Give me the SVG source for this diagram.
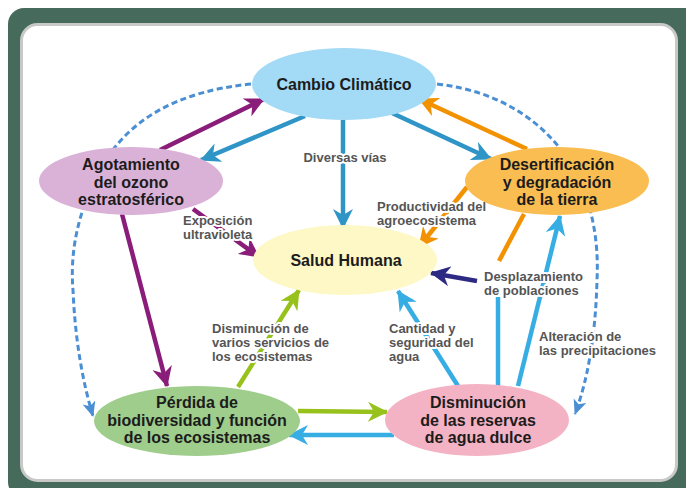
<svg xmlns="http://www.w3.org/2000/svg" width="686" height="488" viewBox="0 0 686 488">
<defs>
<style>
.node{font-family:"Liberation Sans",Arial,sans-serif;font-weight:bold;font-size:16px;fill:#1c1c1c;text-anchor:middle}
.lbl{font-family:"Liberation Sans",Arial,sans-serif;font-weight:bold;font-size:13px;fill:#555;stroke:#fff;stroke-width:4px;stroke-linejoin:round;paint-order:stroke}
.c{fill:none;stroke-width:4.5;stroke-linecap:butt}
.dash{fill:none;stroke:#4a8fd4;stroke-width:3;stroke-dasharray:6 3.5}
</style>
<marker id="mPu" viewBox="0 0 20 20" refX="19" refY="10" markerWidth="20" markerHeight="20" markerUnits="userSpaceOnUse" orient="auto"><path d="M0,0 L20,10 L0,20 L6,10 z" fill="#8b1d7a"/></marker>
<marker id="mBl" viewBox="0 0 20 20" refX="19" refY="10" markerWidth="20" markerHeight="20" markerUnits="userSpaceOnUse" orient="auto"><path d="M0,0 L20,10 L0,20 L6,10 z" fill="#2f95c6"/></marker>
<marker id="mLb" viewBox="0 0 20 20" refX="19" refY="10" markerWidth="20" markerHeight="20" markerUnits="userSpaceOnUse" orient="auto"><path d="M0,0 L20,10 L0,20 L6,10 z" fill="#36ade3"/></marker>
<marker id="mOr" viewBox="0 0 20 20" refX="19" refY="10" markerWidth="20" markerHeight="20" markerUnits="userSpaceOnUse" orient="auto"><path d="M0,0 L20,10 L0,20 L6,10 z" fill="#f39200"/></marker>
<marker id="mNv" viewBox="0 0 20 20" refX="19" refY="10" markerWidth="20" markerHeight="20" markerUnits="userSpaceOnUse" orient="auto"><path d="M0,0 L20,10 L0,20 L6,10 z" fill="#2d2a84"/></marker>
<marker id="mGr" viewBox="0 0 20 20" refX="19" refY="10" markerWidth="20" markerHeight="20" markerUnits="userSpaceOnUse" orient="auto"><path d="M0,0 L20,10 L0,20 L6,10 z" fill="#97c21c"/></marker>
<marker id="mDa" viewBox="0 0 16 14" refX="15" refY="7" markerWidth="15" markerHeight="14" markerUnits="userSpaceOnUse" orient="auto"><path d="M0,0 L16,7 L0,14 L4,7 z" fill="#4a8fd4"/></marker>
</defs>
<rect x="0" y="0" width="686" height="488" fill="#fff"/>
<rect x="8" y="8" width="692" height="490" rx="16" fill="#466a5b"/>
<rect x="21.5" y="24.5" width="655" height="456" rx="16" fill="#fff" stroke="#c8c8c8" stroke-width="3"/>

<g id="connectors">
<path class="dash" d="M251,84 Q140,95 100,170 Q68,230 73,290 Q76,360 93,416" marker-end="url(#mDa)"/>
<path class="dash" d="M437,84 Q530,95 575,170 Q600,220 597,280 Q595,360 575,414" marker-end="url(#mDa)"/>
<path class="c" stroke="#8b1d7a" d="M160,150 L264,99" marker-end="url(#mPu)"/>
<path class="c" stroke="#2f95c6" d="M305,116 L201,160" marker-end="url(#mBl)"/>
<path class="c" stroke="#2f95c6" d="M343,120 L343,228" marker-end="url(#mBl)"/>
<path class="c" stroke="#2f95c6" d="M392,113 L491,159" marker-end="url(#mBl)"/>
<path class="c" stroke="#f39200" d="M527,149 L419,99" marker-end="url(#mOr)"/>
<path class="c" stroke="#f39200" d="M467,187 L419,247" marker-end="url(#mOr)"/>
<path class="c" stroke="#f39200" d="M524,214 L499,261"/>
<path class="c" stroke="#2d2a84" d="M477,281 L431,273" marker-end="url(#mNv)"/>
<path class="c" stroke="#36ade3" d="M498,386 L498,297"/>
<path class="c" stroke="#36ade3" d="M518,386 L560,216" marker-end="url(#mLb)"/>
<path class="c" stroke="#36ade3" d="M458,386 L398,291" marker-end="url(#mLb)"/>
<path class="c" stroke="#36ade3" d="M394,435 L289,435" marker-end="url(#mLb)"/>
<path class="c" stroke="#97c21c" d="M298,411 L387,412" marker-end="url(#mGr)"/>
<path class="c" stroke="#97c21c" d="M238,387 L299,290" marker-end="url(#mGr)"/>
<path class="c" stroke="#8b1d7a" d="M122,214 L167,386" marker-end="url(#mPu)"/>
<path class="c" stroke="#8b1d7a" d="M193,209 L259,257" marker-end="url(#mPu)"/>
</g>

<g id="labels">
<text class="lbl" x="345" y="162" text-anchor="middle">Diversas vías</text>
<text class="lbl" x="183" y="225">Exposición</text>
<text class="lbl" x="183" y="238.5">ultravioleta</text>
<text class="lbl" x="377" y="211">Productividad del</text>
<text class="lbl" x="377" y="225">agroecosistema</text>
<text class="lbl" x="484" y="281">Desplazamiento</text>
<text class="lbl" x="484" y="295">de poblaciones</text>
<text class="lbl" x="389" y="333">Cantidad y</text>
<text class="lbl" x="389" y="347">seguridad del</text>
<text class="lbl" x="389" y="361">agua</text>
<text class="lbl" x="212" y="333">Disminución de</text>
<text class="lbl" x="212" y="347">varios servicios de</text>
<text class="lbl" x="212" y="361">los ecosistemas</text>
<text class="lbl" x="539" y="341">Alteración de</text>
<text class="lbl" x="539" y="355">las precipitaciones</text>
</g>

<g id="cambio">
<ellipse cx="344" cy="84" rx="92" ry="36" fill="#a3daf6"/>
<text class="node" x="344" y="90">Cambio Climático</text>
</g>
<g id="agotamiento">
<ellipse cx="131" cy="181" rx="92" ry="34" fill="#dbb2d7"/>
<text class="node" x="131" y="170">Agotamiento</text>
<text class="node" x="131" y="188">del ozono</text>
<text class="node" x="131" y="205">estratosférico</text>
</g>
<g id="desertificacion">
<ellipse cx="557" cy="181" rx="92" ry="34" fill="#f9bd52"/>
<text class="node" x="557" y="170">Desertificación</text>
<text class="node" x="557" y="188">y degradación</text>
<text class="node" x="557" y="205">de la tierra</text>
</g>
<g id="salud">
<ellipse cx="345" cy="260" rx="92" ry="35" fill="#fdf8c6"/>
<text class="node" x="346" y="266">Salud Humana</text>
</g>
<g id="perdida">
<ellipse cx="197" cy="421" rx="103" ry="35" fill="#9fcd8c"/>
<text class="node" x="197" y="408">Pérdida de</text>
<text class="node" x="197" y="426">biodiversidad y función</text>
<text class="node" x="197" y="443">de los ecosistemas</text>
</g>
<g id="disminucion">
<ellipse cx="477" cy="420" rx="92" ry="36" fill="#f4b3c5"/>
<text class="node" x="478" y="408">Disminución</text>
<text class="node" x="478" y="426">de las reservas</text>
<text class="node" x="478" y="443">de agua dulce</text>
</g>
</svg>
